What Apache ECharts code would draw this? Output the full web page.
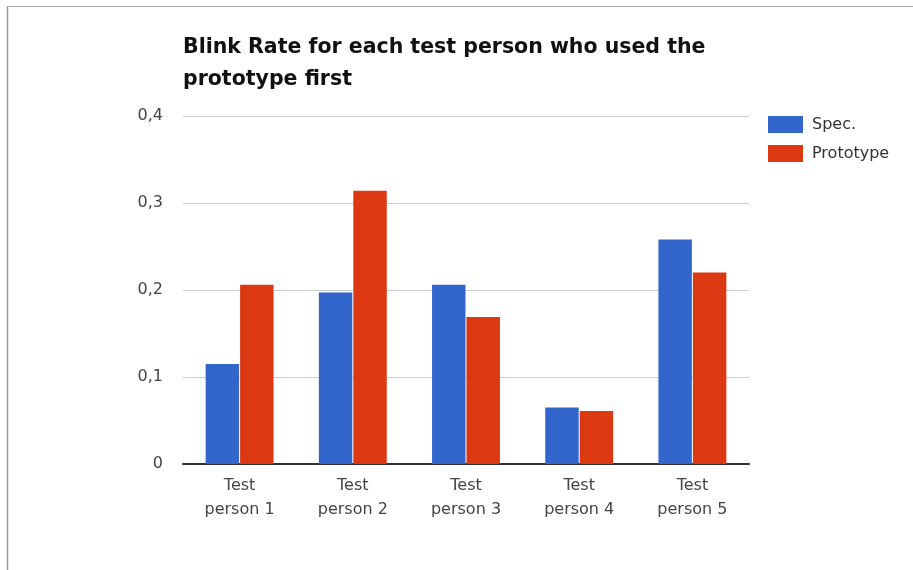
<!DOCTYPE html>
<html>
<head>
<meta charset="utf-8">
<script src="https://cdn.jsdelivr.net/npm/echarts@6/dist/echarts.min.js"></script>
<style>
  html, body { margin: 0; padding: 0; background: #fff; }
  #chart { width: 913px; height: 570px; }
</style>
</head>
<body>
<div id="chart"></div>
<script>
// Blink rate per test person (group that used the prototype first)
const categories = ['Test\nperson 1', 'Test\nperson 2', 'Test\nperson 3', 'Test\nperson 4', 'Test\nperson 5'];
const specValues = [0.115, 0.197, 0.206, 0.065, 0.258];
const prototypeValues = [0.206, 0.314, 0.169, 0.061, 0.220];
const yTicks = [0, 0.1, 0.2, 0.3, 0.4];

const chart = echarts.init(document.getElementById('chart'));
const font = 'DejaVu Sans, Arial, sans-serif';

chart.setOption({
  animation: false,
  backgroundColor: '#fff',
  title: {
    text: 'Blink Rate for each test person who used the\nprototype first',
    left: 178,
    top: 27,
    textStyle: {
      fontFamily: font,
      fontSize: 20.5,
      fontWeight: 'bold',
      color: '#111',
      lineHeight: 32
    }
  },
  legend: {
    orient: 'vertical',
    left: 763,
    top: 111,
    itemWidth: 35,
    itemHeight: 17,
    itemGap: 12,
    icon: 'rect',
    textStyle: { fontFamily: font, fontSize: 16, color: '#333', padding: [0, 0, 0, 4] },
    data: ['Spec.', 'Prototype']
  },
  grid: { left: 183, right: 164, top: 116, bottom: 106, containLabel: false },
  xAxis: {
    type: 'category',
    data: categories,
    axisTick: { show: false },
    axisLine: { lineStyle: { color: '#333', width: 2 } },
    axisLabel: {
      fontFamily: font,
      fontSize: 16,
      color: '#444',
      lineHeight: 24,
      margin: 10
    }
  },
  yAxis: {
    type: 'value',
    min: yTicks[0],
    max: yTicks[yTicks.length - 1],
    interval: 0.1,
    axisLine: { show: false },
    axisTick: { show: false },
    splitLine: { lineStyle: { color: '#ccc', width: 1 } },
    axisLabel: {
      fontFamily: font,
      fontSize: 16,
      color: '#444',
      margin: 20,
      formatter: v => String(Math.round(v * 10) / 10).replace('.', ',')
    }
  },
  series: [
    {
      name: 'Spec.',
      type: 'bar',
      data: specValues,
      barGap: '3%',
      barCategoryGap: '40%',
      itemStyle: { color: '#3366cc' }
    },
    {
      name: 'Prototype',
      type: 'bar',
      data: prototypeValues,
      itemStyle: { color: '#dc3912' }
    }
  ],
  graphic: [
    { type: 'line', shape: { x1: 7.5, y1: 6, x2: 7.5, y2: 570 }, style: { stroke: '#999', lineWidth: 1.5 } },
    { type: 'line', shape: { x1: 7, y1: 6.5, x2: 913, y2: 6.5 }, style: { stroke: '#aaa', lineWidth: 1 } }
  ]
});
</script>
</body>
</html>
